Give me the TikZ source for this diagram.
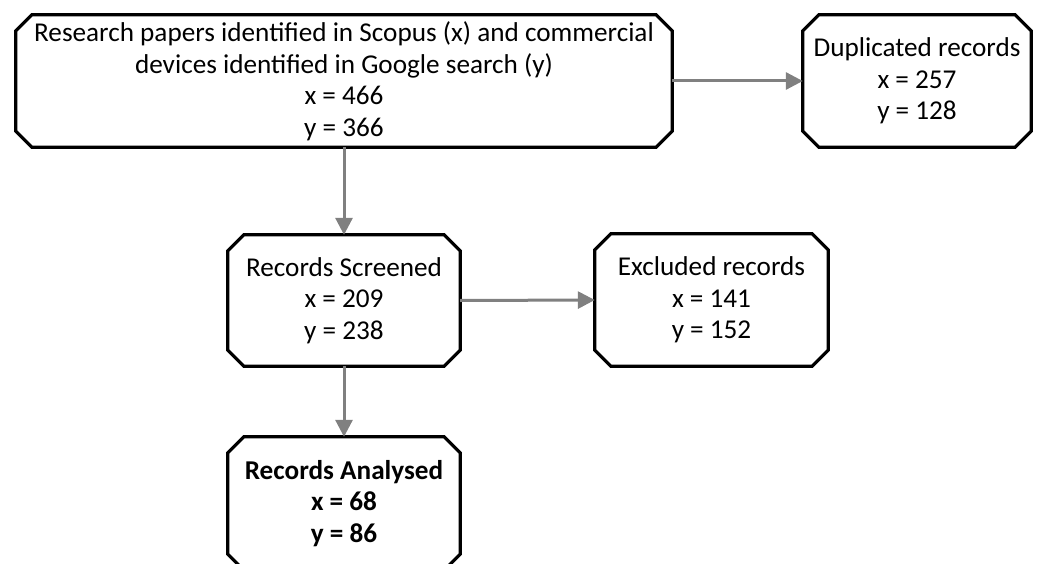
\documentclass[tikz,border=0pt]{standalone}
\usepackage{fontspec}
\setmainfont{Carlito}
\usetikzlibrary{calc,arrows.meta}

\newcommand\cutbox[2][16pt]{%
  \draw[boxline]
    ($(#2.north west)+(#1,0)$) -- ($(#2.north east)+(-#1,0)$)
    -- ($(#2.north east)+(0,-#1)$) -- ($(#2.south east)+(0,#1)$)
    -- ($(#2.south east)+(-#1,0)$) -- ($(#2.south west)+(#1,0)$)
    -- ($(#2.south west)+(0,#1)$) -- ($(#2.north west)+(0,-#1)$)
    -- cycle;}

\begin{document}
\begin{tikzpicture}[x=1pt,y=-1pt,
  stage/.style={rectangle,draw=none,inner sep=0pt,align=center,
    font=\fontsize{27.2}{31.5}\selectfont},
  boxline/.style={line width=3.2pt,black,line join=miter},
  flow/.style={line width=3pt,draw={rgb,255:red,128;green,128;blue,128},
    -{Triangle[length=17pt,width=17pt,fill={rgb,255:red,128;green,128;blue,128}]}}]
\useasboundingbox (0,0) rectangle (1041,564);
\clip (0,0) rectangle (1041,564);

\node[stage,minimum width=656pt,minimum height=132pt] (found) at (344,81)
  {Research papers identified in Scopus (x) and commercial\\
   devices identified in Google search (y)\\ x = 466\\ y = 366};
\node[stage,minimum width=228pt,minimum height=132pt] (dup) at (917,81)
  {Duplicated records\\ x = 257\\ y = 128};
\node[stage,minimum width=232pt,minimum height=131pt] (screen) at (344,300.5)
  {Records Screened\\ x = 209\\ y = 238};
\node[stage,minimum width=233pt,minimum height=132pt] (excl) at (711.5,300)
  {Excluded records\\ x = 141\\ y = 152};
\node[stage,minimum width=232pt,minimum height=133pt,
  font=\fontsize{27.2}{31.5}\selectfont\bfseries] (anal) at (344,503.5)
  {Records Analysed\\ x = 68\\ y = 86};

\foreach \n in {found,dup,screen,excl,anal} {\cutbox{\n}}

\draw[flow] (found.east |- dup.west) -- (dup.west);
\draw[flow] (found.south) -- (screen.north);
\draw[flow] (screen.east) -- (excl.west);
\draw[flow] (screen.south) -- (anal.north);
\end{tikzpicture}
\end{document}
